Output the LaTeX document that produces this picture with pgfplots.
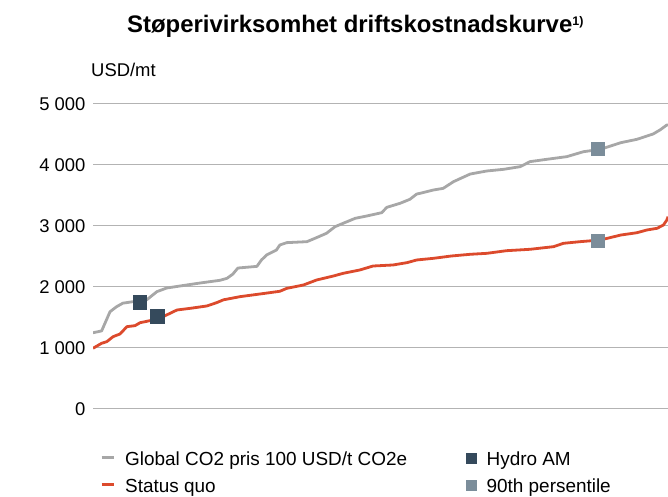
\documentclass[border=0pt]{standalone}
\usepackage{fontspec}
\setmainfont{Liberation Sans}
\usepackage{pgfplots}
\pgfplotsset{compat=1.18}
\definecolor{grayline}{HTML}{A7A7A7}
\definecolor{redline}{HTML}{DC4A2C}
\definecolor{hydro}{HTML}{354A5C}
\definecolor{pct}{HTML}{7B8D9A}
\definecolor{grid}{HTML}{B3B3B3}
\begin{document}
\begin{tikzpicture}[x=1bp,y=1bp]
\useasboundingbox (0,0) rectangle (668,497);
\begin{axis}[
  at={(93bp,88bp)}, anchor=south west,
  scale only axis, width=575bp, height=305bp,
  xmin=0, xmax=100, ymin=0, ymax=5000,
  xtick=\empty,
  ytick={0,1000,2000,3000,4000,5000},
  ymajorgrids, grid style={draw=grid, line width=1bp},
  axis line style={draw=none},
  major tick length=0pt,
  /pgf/number format/assume math mode=true,
  /pgf/number format/1000 sep={\ },
  yticklabel style={font=\fontsize{18.5}{22}\selectfont, xshift=-4bp},
  legend columns=2,
  legend cell align=left,
  legend style={at={(0.0122,-0.142)}, anchor=north west, draw=none, fill=none,
    inner sep=0pt, row sep=11.5bp,
    font=\fontsize{19}{22}\selectfont,
    nodes={inner sep=0pt, text height=0.75em, text depth=0.25em},
    /tikz/every odd column/.append style={column sep=10bp}},
]
% Global CO2 pris 100 USD/t CO2e
\addplot[forget plot, draw=grayline, line width=2.8bp, line join=round] coordinates {
(0,1250) (1.5,1280) (2.96,1595) (4.1,1677) (5.2,1735) (7.0,1760) (9.3,1787)
(11.1,1923) (12.8,1983) (16.3,2033) (18.6,2065) (22.1,2110) (23.3,2142)
(24.3,2210) (25.2,2311) (28.5,2338) (29.3,2443) (30.2,2525) (31.9,2607)
(32.5,2689) (33.7,2727) (37.2,2743) (38.6,2798) (40.6,2880) (42.1,2989)
(43.5,3044) (45.6,3126) (47.6,3164) (50.2,3218) (51.1,3306) (53.4,3372)
(55.1,3437) (56.3,3524) (56.9,3536) (59.2,3590) (60.9,3617) (62.7,3727)
(65.6,3852) (68.5,3902) (71.4,3929) (74.3,3973) (76.0,4055) (78.9,4093)
(82.4,4137) (85.3,4218) (88.2,4256) (91.8,4366) (94.6,4421) (97.4,4508)
(98.6,4574) (99.8,4656) (100,4656)
};
% Status quo
\addplot[forget plot, draw=redline, line width=2.8bp, line join=round] coordinates {
(0,995) (1.5,1077) (2.4,1104) (3.5,1186) (4.7,1230) (5.9,1350) (7.3,1366)
(8.2,1415) (9.9,1448) (12.2,1514) (14.6,1623) (16.9,1650) (19.8,1689)
(21.5,1743) (22.7,1790) (25.6,1842) (30.2,1900) (32.5,1930) (33.7,1978)
(36.6,2033) (38.9,2115) (41.8,2180) (43.5,2224) (46.4,2279) (48.7,2344)
(52.2,2361) (54.6,2399) (56.3,2443) (59.2,2470) (62.3,2508) (65.6,2536)
(68.5,2552) (71.9,2595) (76.0,2618) (80.1,2661) (81.8,2716) (84.7,2743)
(88.2,2770) (91.8,2852) (94.6,2890) (96.3,2934) (98.1,2962) (99.2,3016)
(99.8,3098) (100,3153)
};
% Hydro AM
\addplot[forget plot, hydro, only marks, mark=square*, mark size=6.8bp, mark options={fill=hydro, draw=hydro, line width=0pt}] coordinates {
(8.2,1743) (11.25,1514)
};
% 90th persentile
\addplot[forget plot, pct, only marks, mark=square*, mark size=6.8bp, mark options={fill=pct, draw=pct, line width=0pt}] coordinates {
(87.8,4262) (87.8,2754)
};
\addlegendimage{legend image code/.code={\draw[grayline, line width=3bp] (0bp,5.5bp) -- (12bp,5.5bp);}}
\addlegendentry{\makebox[341bp][l]{Global CO2 pris 100 USD/t CO2e}}
\addlegendimage{legend image code/.code={\fill[hydro] (0bp,0.5bp) rectangle (10bp,10.5bp);}}
\addlegendentry{Hydro AM}
\addlegendimage{legend image code/.code={\draw[redline, line width=3bp] (0bp,5.5bp) -- (12bp,5.5bp);}}
\addlegendentry{\makebox[341bp][l]{Status quo}}
\addlegendimage{legend image code/.code={\fill[pct] (0bp,0.5bp) rectangle (10bp,10.5bp);}}
\addlegendentry{90th persentile}
\end{axis}
\node[anchor=base west, inner sep=0pt, font=\fontsize{24}{28}\selectfont\bfseries] at (127,464) {Støperivirksomhet driftskostnadskurve\raisebox{7.5bp}{\fontsize{12.5}{14}\selectfont 1)}};
\node[anchor=base west, inner sep=0pt, font=\fontsize{18.5}{22}\selectfont] at (91,420) {USD/mt};
\end{tikzpicture}
\end{document}
